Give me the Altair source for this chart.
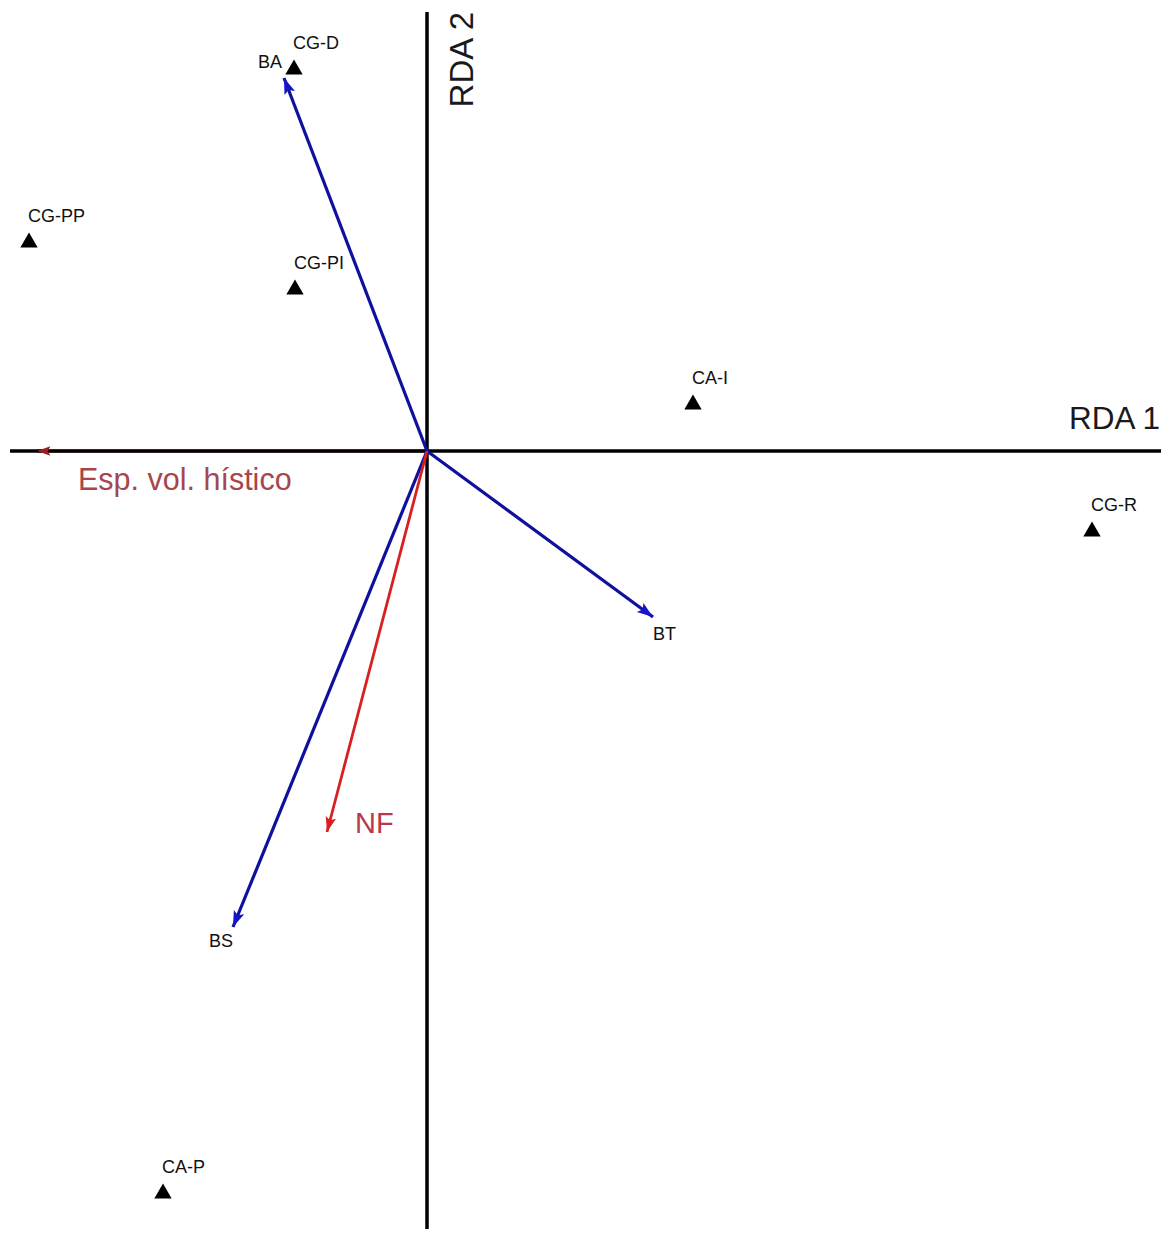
import math
import altair as alt
import pandas as pd

# ---- site scores (RDA 1, RDA 2) ----
site_names = ["CG-D", "CG-PP", "CG-PI", "CA-I", "CG-R", "CA-P"]
site_x = [-1.33, -3.98, -1.32, 2.66, 6.65, -2.64]
site_y = [3.84, 2.11, 1.64, 0.49, -0.78, -7.40]

# ---- species / response vectors (blue) ----
sp_names = ["BA", "BT", "BS"]
sp_x = [-1.43, 2.26, -1.94]
sp_y = [3.73, -1.66, -4.76]

# ---- environmental vectors (red) ----
env_names = ["NF", "Esp. vol. hístico"]
env_x = [-1.00, -3.90]
env_y = [-3.81, 0.00]

# ---- axes ----
axis_x_extent = [-4.17, 7.34]
axis_y_extent = [-7.78, 4.39]
axis_titles = ["RDA 1", "RDA 2"]

X_DOMAIN = [-4.19, 7.35]
Y_DOMAIN = [-7.78, 4.43]
W, H = 1154, 1221

FONT = "Liberation Sans"
xs = alt.Scale(domain=X_DOMAIN, nice=False, zero=False)
ys = alt.Scale(domain=Y_DOMAIN, nice=False, zero=False)
X = lambda f: alt.X(f, type="quantitative", scale=xs, axis=None)
Y = lambda f: alt.Y(f, type="quantitative", scale=ys, axis=None)


def angle_of(dx, dy):
    return (math.degrees(math.atan2(dx, dy)) + 360.0) % 360.0


sites = pd.DataFrame({"name": site_names, "x": site_x, "y": site_y})
sp = pd.DataFrame({"name": sp_names, "x": sp_x, "y": sp_y,
                   "x0": [0.0] * len(sp_names), "y0": [0.0] * len(sp_names),
                   "ang": [angle_of(a, b) for a, b in zip(sp_x, sp_y)]})
env = pd.DataFrame({"name": env_names, "x": env_x, "y": env_y,
                    "x0": [0.0] * len(env_names), "y0": [0.0] * len(env_names),
                    "ang": [angle_of(a, b) for a, b in zip(env_x, env_y)]})

hax = pd.DataFrame({"x": [axis_x_extent[0]], "x2": [axis_x_extent[1]], "y": [0.0]})
vax = pd.DataFrame({"y": [axis_y_extent[0]], "y2": [axis_y_extent[1]], "x": [0.0]})

ARROW = "M0,0L0.7,2L0,1.6L-0.7,2Z"

BLUE = "#10109E"
BLUE_HEAD = "#1414C8"
RED_NF = "#D82020"
RED_ESP = "#9A1C24"

layers = []

esp_df = env[env["name"] == "Esp. vol. hístico"]
nf_df = env[env["name"] == "NF"]

# Esp. vol. hístico shaft (hidden under horizontal axis)
layers.append(alt.Chart(esp_df).mark_rule(color=RED_ESP, strokeWidth=3).encode(
    x=X("x0"), y=Y("y0"), x2="x", y2="y"))

# axes
layers.append(alt.Chart(hax).mark_rule(color="black", strokeWidth=3.5).encode(
    x=X("x"), x2="x2", y=Y("y")))
layers.append(alt.Chart(vax).mark_rule(color="black", strokeWidth=3.5).encode(
    y=Y("y"), y2="y2", x=X("x")))

# shafts
layers.append(alt.Chart(sp).mark_rule(color=BLUE, strokeWidth=3.2).encode(
    x=X("x0"), y=Y("y0"), x2="x", y2="y"))
layers.append(alt.Chart(nf_df).mark_rule(color=RED_NF, strokeWidth=2.8).encode(
    x=X("x0"), y=Y("y0"), x2="x", y2="y"))

# arrowheads
layers.append(alt.Chart(sp).mark_point(shape=ARROW, filled=True, opacity=1, size=256,
                                        color=BLUE_HEAD, strokeWidth=0).encode(
    x=X("x"), y=Y("y"), angle=alt.Angle("ang:Q", scale=None)))
layers.append(alt.Chart(nf_df).mark_point(shape=ARROW, filled=True, opacity=1, size=230,
                                           color=RED_NF, strokeWidth=0).encode(
    x=X("x"), y=Y("y"), angle=alt.Angle("ang:Q", scale=None)))
layers.append(alt.Chart(esp_df).mark_point(shape=ARROW, filled=True, opacity=1, size=180,
                                            color=RED_ESP, strokeWidth=0).encode(
    x=X("x"), y=Y("y"), angle=alt.Angle("ang:Q", scale=None)))

# site triangles
layers.append(alt.Chart(sites).mark_point(shape="triangle-up", filled=True, opacity=1,
                                           size=300, color="black", strokeWidth=0).encode(
    x=X("x"), y=Y("y")))

# site labels
layers.append(alt.Chart(sites).mark_text(align="left", baseline="alphabetic", dx=-1, dy=-18,
                                          fontSize=18, font=FONT, color="#111111").encode(
    x=X("x"), y=Y("y"), text="name:N"))

# vector labels
label_styles = {
    "BA": dict(align="right", dx=-2, dy=-10, fontSize=18, color="#111111"),
    "BT": dict(align="left", dx=0, dy=23, fontSize=18, color="#111111"),
    "BS": dict(align="right", dx=0, dy=20, fontSize=18, color="#111111"),
}
for nm, st in label_styles.items():
    layers.append(alt.Chart(sp[sp["name"] == nm]).mark_text(
        baseline="alphabetic", font=FONT, **st).encode(
        x=X("x"), y=Y("y"), text="name:N"))

layers.append(alt.Chart(nf_df).mark_text(align="left", baseline="alphabetic", dx=28, dy=1,
                                          fontSize=29, font=FONT, color="#B8384A").encode(
    x=X("x"), y=Y("y"), text="name:N"))
layers.append(alt.Chart(esp_df).mark_text(align="left", baseline="alphabetic", dx=41, dy=39,
                                           fontSize=30.5, font=FONT, color="#A8454C").encode(
    x=X("x"), y=Y("y"), text="name:N"))

# axis titles
t1 = pd.DataFrame({"t": [axis_titles[0]], "x": [axis_x_extent[1]], "y": [0.0]})
t2 = pd.DataFrame({"t": [axis_titles[1]], "x": [0.0], "y": [axis_y_extent[1]]})
layers.append(alt.Chart(t1).mark_text(align="right", baseline="alphabetic", dx=-1, dy=-22,
                                       fontSize=31.5, font=FONT, color="#1a1a1a").encode(
    x=X("x"), y=Y("y"), text="t:N"))
layers.append(alt.Chart(t2).mark_text(align="right", baseline="alphabetic", angle=270,
                                       dx=0, dy=46,
                                       fontSize=33, font=FONT, color="#1a1a1a").encode(
    x=X("x"), y=Y("y"), text="t:N"))

chart = alt.layer(*layers).properties(
    width=W, height=H, padding=0, autosize=alt.AutoSizeParams(type="none"),
    background="white",
).configure_view(stroke=None)

chart.save("out.html", embed_options={"renderer": "svg", "actions": False})
